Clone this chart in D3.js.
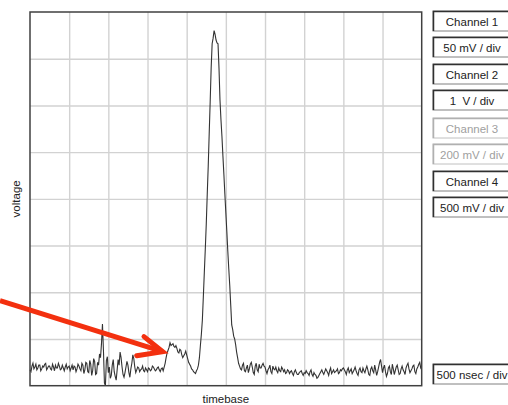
<!DOCTYPE html>
<html><head><meta charset="utf-8">
<script src="https://cdn.jsdelivr.net/npm/d3@7"></script>
<style>html,body{margin:0;padding:0;background:#fff;overflow:hidden;} svg{display:block;font-family:"Liberation Sans",Arial,sans-serif;}</style>
</head><body><svg id="c" width="508" height="405"></svg>
<script>
// ---- data ----
const sampleIntervalNs = 12.5;
const voltageMv = [
 17,15,21,24,18,20,23,17,19,22,22,16,18,21,20,23,24,17,19,21,
 21,18,17,23,20,16,22,19,19,24,21,17,18,22,19,16,20,23,18,20,
 21,16,19,22,17,21,20,15,18,23,21,18,16,24,22,13,17,25,24,15,
 14,27,23,11,16,29,26,12,13,25,22,34,30,45,66,38,3,0,27,31,
 14,20,8,11,22,28,15,10,6,17,28,22,36,30,20,12,9,14,20,26,
 22,14,9,18,24,33,29,20,14,17,20,19,15,17,18,21,16,15,19,17,
 15,19,18,16,17,21,20,18,16,17,19,20,17,15,18,19,16,20,24,30,
 35,38,41,46,43,44,45,42,41,43,40,36,35,39,38,33,30,32,34,37,
 33,29,25,23,21,18,17,15,14,13,16,18,22,30,43,55,70,95,121,146,
 173,205,235,270,304,340,366,372,380,376,370,367,366,340,306,285,267,246,226,205,
 185,165,144,125,107,86,65,60,53,50,44,36,30,24,21,18,17,22,24,16,
 15,19,22,14,18,23,25,20,14,12,21,24,17,15,23,19,19,22,24,21,
 20,16,13,17,19,22,15,13,21,18,17,20,16,14,19,16,15,20,18,15,
 17,13,14,17,16,13,15,16,13,11,15,17,14,12,12,14,15,16,13,11,
 14,13,16,14,13,11,15,17,12,10,14,12,11,8,9,11,13,15,17,14,
 12,15,18,16,14,11,16,19,13,15,17,14,15,16,18,13,14,17,16,18,
 19,17,15,12,17,19,14,16,18,13,15,17,20,16,13,11,17,19,15,14,
 19,16,14,18,21,17,12,11,18,20,16,14,22,17,11,15,20,25,28,21,
 14,19,22,15,10,13,19,21,15,12,23,18,12,16,20,22,17,12,13,18,
 21,17,15,12,19,22,24,18,14,16,18,21,22,15,13,18,20,23,25,19,
 17
];
const nsPerDiv = 500, xDivisions = 10;
const mvPerDiv = 50, yDivisions = 8;
const xTitle = "timebase", yTitle = "voltage";
const channelLabels = ["Channel 1","Channel 2","Channel 3","Channel 4"];
const channelScales = ["50 mV / div","1  V / div","200 mV / div","500 mV / div"];
const channelEnabled = [true,true,false,true];
const timebaseLabel = "500 nsec / div";
// annotation arrow in data units (ns, mV)
const arrowShaft = [[-383,91],[1694,36.4]];
const arrowHead = [[1455,52.5],[1694,36.4],[1362,32.1]];

// ---- layout ----
const svg = d3.select("#c");
const L = 30, T = 12, R = 421.7, B = 385.7;
const x = d3.scaleLinear([0, nsPerDiv*xDivisions], [L, R]);
const y = d3.scaleLinear([0, mvPerDiv*yDivisions], [B, T]);

const plot = svg.append("g");
// grid
plot.append("g").attr("transform",`translate(0,${B})`)
  .call(d3.axisBottom(x).tickValues(d3.range(1,xDivisions).map(i=>i*nsPerDiv)).tickSize(-(B-T)).tickFormat(""))
  .call(g=>g.select(".domain").remove())
  .call(g=>g.selectAll("line").attr("stroke","#d2d2d2").attr("stroke-width",1.4));
plot.append("g").attr("transform",`translate(${L},0)`)
  .call(d3.axisLeft(y).tickValues(d3.range(1,yDivisions).map(i=>i*mvPerDiv)).tickSize(-(R-L)).tickFormat(""))
  .call(g=>g.select(".domain").remove())
  .call(g=>g.selectAll("line").attr("stroke","#d2d2d2").attr("stroke-width",1.4));

// trace
const pts = voltageMv.map((v,i)=>[i*sampleIntervalNs, v]);
plot.append("path").datum(pts)
  .attr("fill","none").attr("stroke","#333").attr("stroke-width",1.1)
  .attr("d", d3.line().x(d=>x(d[0])).y(d=>y(d[1])));

// frame
plot.append("rect").attr("x",L).attr("y",T).attr("width",R-L).attr("height",B-T)
  .attr("fill","none").attr("stroke","#404040").attr("stroke-width",1.5);

// titles
svg.append("text").attr("x",x(nsPerDiv*xDivisions/2)).attr("y",403)
  .attr("text-anchor","middle").attr("font-size",11.5).attr("fill","#222").text(xTitle);
svg.append("text").attr("transform",`translate(20,${y(mvPerDiv*yDivisions/2)}) rotate(-90)`)
  .attr("text-anchor","middle").attr("font-size",11.5).attr("fill","#222").text(yTitle);

// arrow
const arrowLine = d3.line().x(d=>x(d[0])).y(d=>y(d[1]));
svg.append("path").attr("d",arrowLine(arrowShaft)).attr("fill","none")
  .attr("stroke","#f3300f").attr("stroke-width",5);
svg.append("path").attr("d",arrowLine(arrowHead)).attr("fill","none")
  .attr("stroke","#f3300f").attr("stroke-width",5).attr("stroke-linejoin","miter").attr("stroke-linecap","round");

// channel panel
const panel = svg.append("g");
function box(yTop, label, enabled){
  const g = panel.append("g");
  g.append("rect").attr("x",433).attr("y",yTop).attr("width",90).attr("height",20)
    .attr("fill","#fff").attr("stroke", enabled?"#808080":"#c0c0c0").attr("stroke-width",1);
  g.append("path").attr("d",`M433.5,${yTop+20}V${yTop+0.5}H523`)
    .attr("fill","none").attr("stroke",enabled?"#303030":"#b0b0b0").attr("stroke-width",1.5);
  g.append("text").attr("x",472).attr("y",yTop+14.5).attr("text-anchor","middle")
    .attr("font-size",11.5).attr("fill",enabled?"#222":"#a0a0a0")
    .style("white-space","pre").text(label);
}
const boxTops = [11, 37, 64, 90, 118, 144, 171, 197];
channelLabels.forEach((lab,i)=>{
  box(boxTops[i*2], lab, channelEnabled[i]);
  box(boxTops[i*2+1], channelScales[i], channelEnabled[i]);
});
box(364, timebaseLabel, true);
</script></body></html>
